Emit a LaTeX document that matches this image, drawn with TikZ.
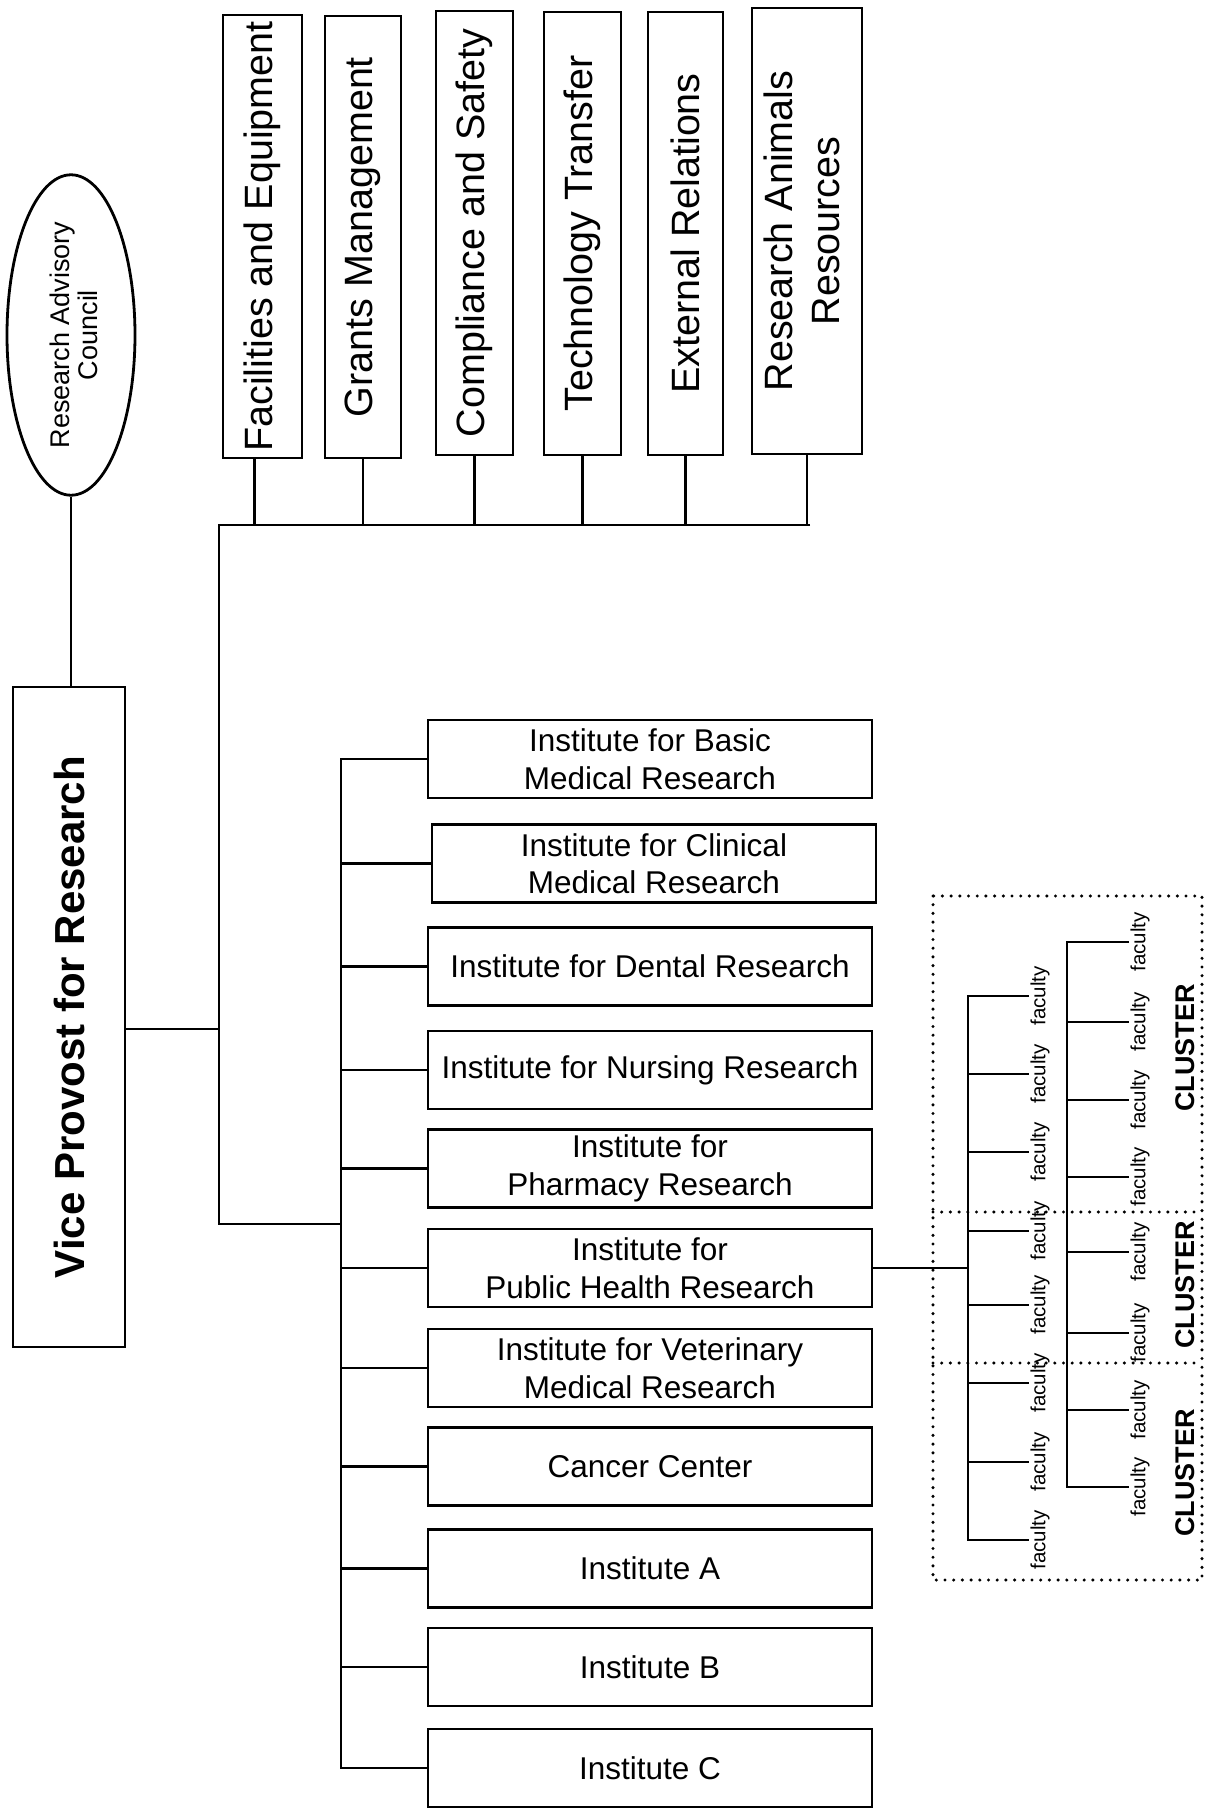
\documentclass[tikz,border=0pt]{standalone}
\usepackage{fontspec}
\setmainfont{Liberation Sans}
\usetikzlibrary{shapes.geometric}
\begin{document}
\begin{tikzpicture}[x=1pt,y=-1pt,
  line width=2.8pt,
  unitbox/.style={draw, rectangle, inner sep=0pt, line width=2.8pt},
  sidebox/.style={unitbox, font=\fontsize{39.5}{47}\selectfont},
  instbox/.style={unitbox, minimum width=444pt, minimum height=78pt, align=center,
                  font=\fontsize{31.5}{37.5}\selectfont},
  fac/.style={rotate=90, inner sep=0pt, font=\fontsize{20.5}{22}\selectfont},
  clus/.style={rotate=90, inner sep=0pt, font=\fontsize{27}{30}\selectfont\bfseries},
  dots/.style={line width=3.4pt, line cap=round, dash pattern=on 0pt off 8.7pt},
]
\useasboundingbox (0,0) rectangle (1209,1809);

% ---- advisory council and vice provost ----
\node[draw, ellipse, inner sep=0pt, line width=2.8pt, minimum width=128pt, minimum height=290pt,
      font=\fontsize{27}{28.5}\selectfont] (rac) at (71,335)
  {\rotatebox{90}{\raisebox{-7pt}[\height][\depth]{\begin{tabular}{@{}c@{}}Research Advisory\\Council\end{tabular}}}};
\node[unitbox, minimum width=112pt, minimum height=660pt,
      font=\fontsize{42}{48}\selectfont\bfseries] (vp) at (69,1017)
  {\rotatebox{90}{Vice Provost for Research}};
\draw (rac.south) -- (rac.south |- vp.north);

% ---- central offices (top row) ----
\node[sidebox, minimum width=79pt, minimum height=443pt] (fac) at (262.5,236.5)
  {\rotatebox{90}{Facilities and Equipment}};
\node[sidebox, minimum width=76pt, minimum height=442pt] (gra) at (363,237)
  {\rotatebox{90}{Grants Management}};
\node[sidebox, minimum width=77pt, minimum height=444pt] (com) at (474.5,233)
  {\rotatebox{90}{Compliance and Safety}};
\node[sidebox, minimum width=77pt, minimum height=443pt] (tec) at (582.5,233.5)
  {\rotatebox{90}{Technology Transfer}};
\node[sidebox, minimum width=75pt, minimum height=443pt] (ext) at (685.5,233.5)
  {\rotatebox{90}{External Relations}};
\node[sidebox, minimum width=110pt, minimum height=446pt] (ani) at (807,231)
  {\rotatebox{90}{\begin{tabular}{@{}c@{}}Research Animals\\Resources\end{tabular}}};

\coordinate (busL) at (219,525);
\coordinate (busR) at (810,525);
\coordinate (j1) at (219,1224);
\coordinate (t2) at (341,0);

\coordinate (facstem) at ([xshift=-8pt]fac.south);
\draw (facstem) -- (facstem |- busL);
\foreach \n in {gra,com,tec,ext,ani} \draw (\n.south) -- (\n.south |- busL);

% ---- institutes ----
\node[instbox] (ibas) at (650,759)    {Institute for Basic\\Medical Research};
\node[instbox] (icli) at (654,863.5)  {Institute for Clinical\\Medical Research};
\node[instbox] (iden) at (650,966.5)  {Institute for Dental Research};
\node[instbox] (inur) at (650,1070)   {Institute for Nursing Research};
\node[instbox] (ipha) at (650,1168.5) {Institute for\\Pharmacy Research};
\node[instbox] (iph)  at (650,1268)   {Institute for\\Public Health Research};
\node[instbox] (ivet) at (650,1368)   {Institute for Veterinary\\Medical Research};
\node[instbox] (ican) at (650,1466.5) {Cancer Center};
\node[instbox] (iA)   at (650,1568.5) {Institute A};
\node[instbox] (iB)   at (650,1667)   {Institute B};
\node[instbox] (iC)   at (650,1768)   {Institute C};

% trunk lines
\draw (busR) -- (busL) -- (j1) -- (j1 -| t2);
\coordinate (vpc) at ([yshift=-12pt]vp.east);
\draw (vpc) -- (vpc -| busL);
\draw (ibas.west) -- (ibas.west -| t2) -- (iC.west -| t2) -- (iC.west);
\foreach \n in {icli,iden,inur,ipha,iph,ivet,ican,iA,iB}
  \draw (\n.west) -- (\n.west -| t2);

% ---- faculty clusters ----
\draw[dots] (933,896) rectangle (1202,1580);
\draw[dots] (933,1212) -- (1202,1212);
\draw[dots] (933,1363) -- (1202,1363);

\coordinate (c1) at (968,0);
\coordinate (c2) at (1067,0);

\foreach \i/\y in {1/996,2/1074,3/1152,4/1231,5/1305,6/1383,7/1462,8/1540}
  \node[fac] (fa\i) at (1040,\y) {faculty};
\foreach \i/\y in {1/942,2/1022,3/1100,4/1177,5/1252,6/1333,7/1410,8/1487}
  \node[fac] (fb\i) at (1140,\y) {faculty};

\draw (fa1.north) -- (fa1.north -| c1) -- (fa8.north -| c1) -- (fa8.north);
\foreach \i in {2,...,7} \draw (fa\i.north -| c1) -- (fa\i.north);
\draw (fb1.north) -- (fb1.north -| c2) -- (fb8.north -| c2) -- (fb8.north);
\foreach \i in {2,...,7} \draw (fb\i.north -| c2) -- (fb\i.north);

\draw (iph.east) -- (iph.east -| c1);

\node[clus] (cl1) at (1185,1048) {CLUSTER};
\node[clus] (cl2) at (1185,1285) {CLUSTER};
\node[clus] (cl3) at (1185,1473) {CLUSTER};
\end{tikzpicture}
\end{document}
